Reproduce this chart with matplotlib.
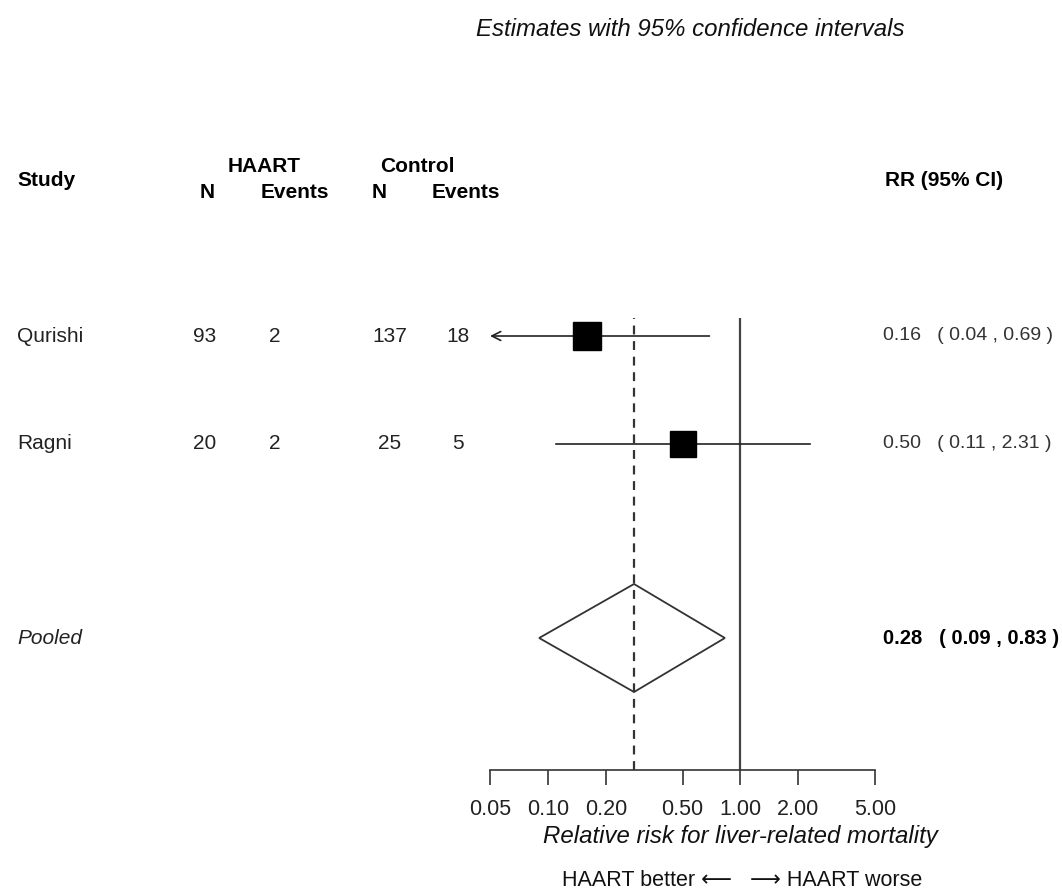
import numpy as np
import matplotlib
matplotlib.use("Agg")
import matplotlib.pyplot as plt
from matplotlib.patches import Polygon

plt.rcParams["font.family"] = ["Liberation Sans", "DejaVu Sans"]

# ── Data ──────────────────────────────────────────────────────────────────────
studies      = ["Qurishi", "Ragni"]
haart_n      = [93, 20]
haart_events = [2, 2]
ctrl_n       = [137, 25]
ctrl_events  = [18, 5]
rr           = [0.16, 0.50]
ci_low       = [0.04, 0.11]
ci_high      = [0.69, 2.31]
pooled_rr    = 0.28
pooled_low   = 0.09
pooled_high  = 0.83
tick_vals    = [0.05, 0.10, 0.20, 0.50, 1.00, 2.00, 5.00]
box_sizes    = [20, 18.5]   # marker size (pt), roughly study weight

# ── Layout (pixels) ───────────────────────────────────────────────────────────
W, H = 1062, 893
X0, X1 = 0.05, 5.0
row_px = [336, 444]
pooled_px = 638


def fx(px):
    return px / W


def fy(py):
    return 1 - py / H


fig = plt.figure(figsize=(W / 100, H / 100), dpi=100)
ax = fig.add_axes([fx(490), fy(770), fx(875) - fx(490), (770 - 318) / H])
ax.set_xscale("log")
ax.set_xlim(X0, X1)
ax.set_ylim(770, 318)   # y in pixel rows, top to bottom

for s in ["top", "right", "left"]:
    ax.spines[s].set_visible(False)
ax.spines["bottom"].set_linewidth(1.2)
ax.spines["bottom"].set_color("#333333")
ax.set_yticks([])
ax.set_xticks(tick_vals)
ax.set_xticklabels([f"{v:.2f}" for v in tick_vals], fontsize=15.5,
                   color="#222222")
ax.minorticks_off()
ax.tick_params(axis="x", length=11, width=1.2, pad=10, color="#333333")

# reference lines
ax.axvline(1.0, color="#444444", lw=1.6, zorder=1)
ax.axvline(pooled_rr, color="#333333", lw=1.6, ls=(0, (4, 3)), zorder=1)

# study rows
for i, y in enumerate(row_px):
    lo = ci_low[i]
    if lo < X0:
        ax.annotate("", xy=(X0, y), xytext=(ci_high[i], y),
                    arrowprops=dict(arrowstyle="->", lw=1.2, color="#222222",
                                    mutation_scale=16, shrinkA=0, shrinkB=0),
                    zorder=2)
    else:
        ax.plot([lo, ci_high[i]], [y, y], color="#222222", lw=1.2, zorder=2)
    ax.plot(rr[i], y, marker="s", ms=box_sizes[i], color="black", mec="black",
            zorder=5)

# pooled diamond
half_h = 54
diamond = Polygon([(pooled_low, pooled_px), (pooled_rr, pooled_px - half_h),
                   (pooled_high, pooled_px), (pooled_rr, pooled_px + half_h)],
                  closed=True, fill=False, ec="#333333", lw=1.3, zorder=3)
ax.add_patch(diamond)

# ── Text columns ──────────────────────────────────────────────────────────────
fs = 15
fig.text(fx(690), fy(29), "Estimates with 95% confidence intervals",
         fontsize=17.3, style="italic", ha="center", va="center",
         color="#111111")

fig.text(fx(17), fy(181), "Study", fontsize=fs, weight="bold", va="center")
fig.text(fx(264), fy(166), "HAART", fontsize=fs, weight="bold",
         ha="center", va="center")
fig.text(fx(417), fy(166), "Control", fontsize=fs, weight="bold",
         ha="center", va="center")
for xc, lab in [(207, "N"), (295, "Events"), (379, "N"), (466, "Events")]:
    fig.text(fx(xc), fy(192), lab, fontsize=fs, weight="bold",
             ha="center", va="center")
fig.text(fx(885), fy(181), "RR (95% CI)", fontsize=fs, weight="bold",
         va="center")

for i, y in enumerate(row_px):
    fig.text(fx(17), fy(y), studies[i], fontsize=fs, va="center",
             color="#222222")
    for xc, val in [(205, haart_n[i]), (275, haart_events[i]),
                    (390, ctrl_n[i]), (458, ctrl_events[i])]:
        fig.text(fx(xc), fy(y), str(val), fontsize=fs, ha="center",
                 va="center", color="#222222")
    fig.text(fx(883), fy(y),
             f"{rr[i]:.2f}   ( {ci_low[i]:.2f} , {ci_high[i]:.2f} )",
             fontsize=14, va="center", color="#333333")

fig.text(fx(17), fy(pooled_px), "Pooled", fontsize=fs, style="italic",
         va="center", color="#222222")
fig.text(fx(883), fy(pooled_px),
         f"{pooled_rr:.2f}   ( {pooled_low:.2f} , {pooled_high:.2f} )",
         fontsize=14.5, weight="bold", va="center")

fig.text(fx(740), fy(836), "Relative risk for liver-related mortality",
         fontsize=17.3, style="italic", ha="center", va="center",
         color="#111111")
fig.text(fx(742), fy(881), "HAART better \u27f5   \u27f6 HAART worse",
         fontsize=15.5, ha="center", va="center", color="#111111")

fig.savefig("out.png", dpi=100)
